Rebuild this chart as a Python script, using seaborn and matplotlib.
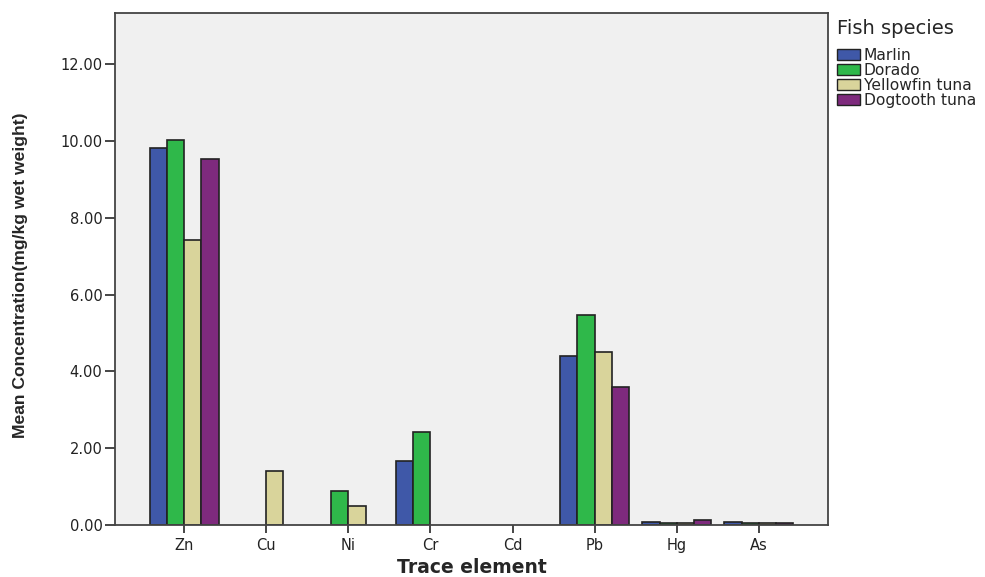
import matplotlib
matplotlib.use("Agg")
import matplotlib.pyplot as plt
import seaborn as sns
import pandas as pd
import numpy as np
from matplotlib.patches import Patch

elements = ["Zn", "Cu", "Ni", "Cr", "Cd", "Pb", "Hg", "As"]
species = ["Marlin", "Dorado", "Yellowfin tuna", "Dogtooth tuna"]
marlin = [9.82, np.nan, np.nan, 1.66, np.nan, 4.40, 0.07, 0.07]
dorado = [10.03, np.nan, 0.88, 2.42, np.nan, 5.46, 0.04, 0.04]
yellowfin = [7.42, 1.41, 0.49, np.nan, np.nan, 4.50, 0.04, 0.04]
dogtooth = [9.53, np.nan, np.nan, np.nan, np.nan, 3.59, 0.13, 0.05]
colors = ["#3f58a8", "#2fb84a", "#d9d49b", "#7e2a7d"]
yticks = [0, 2, 4, 6, 8, 10, 12]

rows = []
for sp, vals in zip(species, [marlin, dorado, yellowfin, dogtooth]):
    for el, v in zip(elements, vals):
        rows.append({"Trace element": el, "Fish species": sp, "value": v})
df = pd.DataFrame(rows)

sns.set_style("white")
plt.rcParams["font.family"] = ["DejaVu Sans"]

fig = plt.figure(figsize=(9.85, 5.77), dpi=100)
ax = fig.add_axes([0.1168, 0.0901, 0.7238, 0.8874])
ax.set_facecolor("#f0f0f0")

sns.barplot(data=df, x="Trace element", y="value", hue="Fish species",
            hue_order=species, order=elements, palette=colors, saturation=1,
            width=0.84, gap=0, edgecolor="#222222", linewidth=1.2,
            errorbar=None, ax=ax, legend=False)

ax.set_xlim(-0.84, 7.84)
ax.set_ylim(0, 13.33)
ax.set_yticks(yticks)
ax.set_yticklabels([f"{t:.2f}" for t in yticks], fontsize=10.5, color="#222222")
ax.tick_params(axis="x", labelsize=10.5, length=6, width=1.2, direction="out", bottom=True, pad=3,
               labelcolor="#222222")
ax.tick_params(axis="y", length=7, width=1.2, direction="out", left=True, pad=2)
for s in ax.spines.values():
    s.set_color("#444444")
    s.set_linewidth(1.3)

ax.set_xlabel("Trace element", fontsize=13.5, fontweight="bold", labelpad=4)
ax.set_ylabel("Mean Concentration(mg/kg wet weight)", fontsize=12.6, fontweight="bold",
              family=["Liberation Sans Narrow", "Liberation Sans", "DejaVu Sans"])
ax.yaxis.set_label_coords(-0.122, 0.487)

handles = [Patch(facecolor=c, edgecolor="#222222", linewidth=1.0) for c in colors]
leg = fig.legend(handles, species, title="Fish species", loc="upper left",
                 bbox_to_anchor=(0.843, 0.978), frameon=False, fontsize=11.2,
                 title_fontsize=14, handlelength=1.5, handleheight=0.75,
                 handletextpad=0.25, labelspacing=0.0, borderaxespad=0.0)
leg._legend_box.align = "left"
leg._legend_box.sep = 7

fig.savefig("out.png", dpi=100)
